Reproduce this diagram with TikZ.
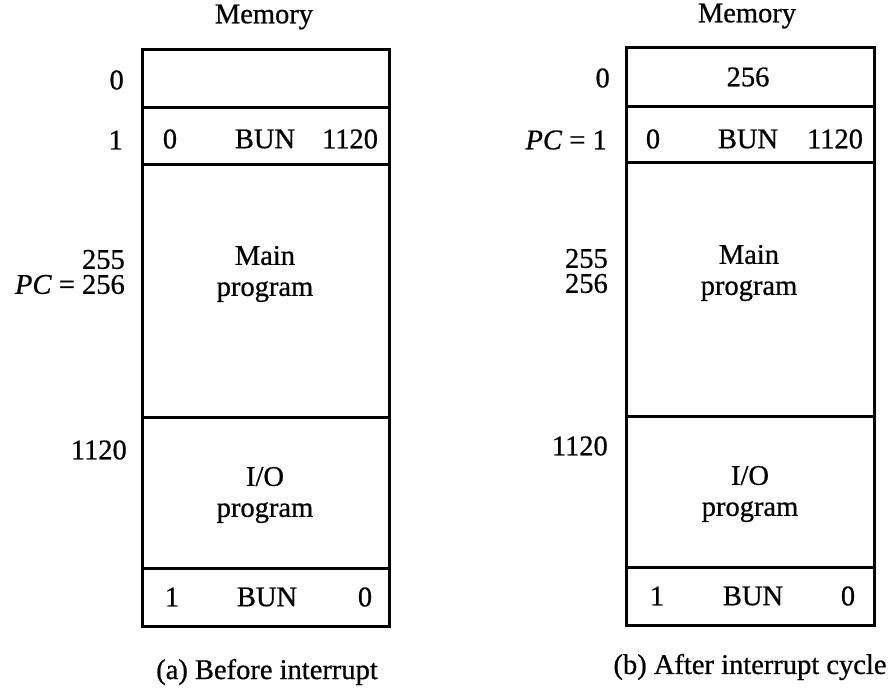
\documentclass[tikz,border=0pt]{standalone}
\usepackage{fontspec}
\setmainfont[FakeBold=0.7]{Liberation Serif}
\begin{document}
\begin{tikzpicture}[x=1pt,y=-1pt,
  every node/.style={font=\fontsize{28.5}{31}\selectfont, inner sep=0pt},
  cell/.style={draw=black, line width=2.6pt, fill=white, anchor=north west, minimum width=#1, inner sep=0pt},
  lbl/.style={anchor=east},
  pair/.style={anchor=east, align=right, font=\fontsize{28.5}{25}\selectfont},
  txt/.style={anchor=center}]
\useasboundingbox[fill=white] (0,0) rectangle (896,688);
% ---------- (a) ----------
\node (memA) at (264,17) {Memory};
\node[cell=247, minimum height=58] (a0) at (141,48) {};
\node[cell=247, minimum height=57] (a1) at (141,106) {};
\node[cell=247, minimum height=253] (amain) at (141,163) {};
\node[cell=247, minimum height=151] (aio) at (141,416) {};
\node[cell=247, minimum height=58] (aend) at (141,567) {};
\node[txt] (a1x) at (170,139) {0};
\node[txt] (a1y) at (265,139) {BUN};
\node[txt] (a1z) at (350,139) {1120};
\node[txt, align=center] (amaint) at (265,274) {Main\\program};
\node[txt, align=center] (aiot) at (265,495) {I/O\\program};
\node[txt] (aendx) at (172,597) {1};
\node[txt] (aendy) at (267,597) {BUN};
\node[txt] (aendz) at (365,597) {0};
\node[lbl] (la0) at (124,80) {0};
\node[lbl] (la1) at (123,140) {1};
\node[pair] (lapc) at (125,272) {255\\\textit{PC} = 256};
\node[lbl] (la1120) at (127,450) {1120};
\node (capA) at (267,672) {(a) Before interrupt};
% ---------- (b) ----------
\node (memB) at (747,16) {Memory};
\node[cell=248, minimum height=59] (b0) at (625,46) {};
\node[cell=248, minimum height=56] (b1) at (625,105) {};
\node[cell=248, minimum height=254] (bmain) at (625,161) {};
\node[cell=248, minimum height=151] (bio) at (625,415) {};
\node[cell=248, minimum height=58] (bend) at (625,566) {};
\node[txt] (b0t) at (748,77) {256};
\node[txt] (b1x) at (653,139) {0};
\node[txt] (b1y) at (748,139) {BUN};
\node[txt] (b1z) at (835,139) {1120};
\node[txt, align=center] (bmaint) at (749,273) {Main\\program};
\node[txt, align=center] (biot) at (750,494) {I/O\\program};
\node[txt] (bendx) at (657,596) {1};
\node[txt] (bendy) at (753,596) {BUN};
\node[txt] (bendz) at (848,596) {0};
\node[lbl] (lb0) at (610,78) {0};
\node[lbl] (lbpc) at (607,140) {\textit{PC} = 1};
\node[pair] (lb256) at (608,271) {255\\256};
\node[lbl] (lb1120) at (608,446) {1120};
\node (capB) at (750,667) {(b) After interrupt cycle};
\end{tikzpicture}
\end{document}
